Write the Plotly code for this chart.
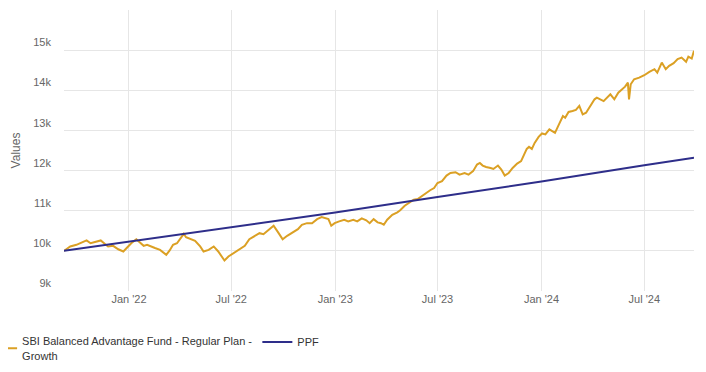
import plotly.graph_objects as go

fund_name = "SBI Balanced Advantage Fund - Regular Plan -<br>Growth"
ppf_name = "PPF"

fund_dates = [
    "2021-09-08", "2021-09-19", "2021-09-30", "2021-10-07", "2021-10-18", "2021-10-25",
    "2021-11-03", "2021-11-12", "2021-11-19", "2021-11-25", "2021-12-04", "2021-12-13",
    "2021-12-22", "2021-12-28", "2022-01-05", "2022-01-14", "2022-01-20", "2022-01-27",
    "2022-02-02", "2022-02-08", "2022-02-16", "2022-02-25", "2022-03-03", "2022-03-08",
    "2022-03-14", "2022-03-20", "2022-03-27", "2022-04-05", "2022-04-08", "2022-04-12",
    "2022-04-20", "2022-04-28", "2022-05-07", "2022-05-13", "2022-05-22", "2022-05-31",
    "2022-06-08", "2022-06-19", "2022-06-26", "2022-07-05", "2022-07-14", "2022-07-25",
    "2022-08-02", "2022-08-11", "2022-08-20", "2022-08-27", "2022-09-04", "2022-09-14",
    "2022-09-22", "2022-09-30", "2022-10-08", "2022-10-18", "2022-10-27", "2022-11-03",
    "2022-11-12", "2022-11-21", "2022-11-30", "2022-12-08", "2022-12-15", "2022-12-20",
    "2022-12-25", "2022-12-31", "2023-01-08", "2023-01-17", "2023-01-24", "2023-02-02",
    "2023-02-09", "2023-02-17", "2023-02-25", "2023-03-03", "2023-03-10", "2023-03-17",
    "2023-03-23", "2023-03-28", "2023-04-03", "2023-04-12", "2023-04-21", "2023-04-26",
    "2023-05-04", "2023-05-11", "2023-05-20", "2023-05-27", "2023-06-04", "2023-06-11",
    "2023-06-18", "2023-06-25", "2023-07-01", "2023-07-09", "2023-07-17", "2023-07-24",
    "2023-08-02", "2023-08-09", "2023-08-18", "2023-08-25", "2023-09-02", "2023-09-09",
    "2023-09-14", "2023-09-19", "2023-09-25", "2023-10-03", "2023-10-08", "2023-10-16",
    "2023-10-22", "2023-10-28", "2023-11-04", "2023-11-11", "2023-11-19", "2023-11-26",
    "2023-12-02", "2023-12-06", "2023-12-10", "2023-12-15", "2023-12-20", "2023-12-27",
    "2024-01-02", "2024-01-08", "2024-01-15", "2024-01-21", "2024-01-25", "2024-02-01",
    "2024-02-08", "2024-02-12", "2024-02-18", "2024-02-25", "2024-03-02", "2024-03-08",
    "2024-03-14", "2024-03-20", "2024-03-26", "2024-04-01", "2024-04-04", "2024-04-08",
    "2024-04-20", "2024-05-02", "2024-05-09", "2024-05-16", "2024-05-22", "2024-05-28",
    "2024-06-02", "2024-06-04", "2024-06-07", "2024-06-13", "2024-06-22", "2024-07-01",
    "2024-07-10", "2024-07-19", "2024-07-24", "2024-08-01", "2024-08-08", "2024-08-14",
    "2024-08-22", "2024-08-29", "2024-09-05", "2024-09-13", "2024-09-17", "2024-09-23",
    "2024-09-27",
]
fund_values = [
    10000, 10110, 10150, 10190, 10260, 10190,
    10225, 10260, 10175, 10110, 10125, 10040,
    9985, 10070, 10190, 10290, 10210, 10125,
    10150, 10110, 10070, 10025, 9960, 9900,
    10010, 10150, 10190, 10375, 10425, 10340,
    10290, 10250, 10110, 9985, 10025, 10110,
    9985, 9760, 9860, 9940, 10040, 10125,
    10290, 10375, 10440, 10415, 10510, 10625,
    10460, 10290, 10375, 10460, 10540, 10650,
    10690, 10690, 10790, 10840, 10815, 10790,
    10625, 10690, 10735, 10775, 10735, 10775,
    10735, 10810, 10760, 10690, 10790, 10710,
    10690, 10650, 10775, 10900, 10960, 11010,
    11125, 11190, 11275, 11290, 11375, 11440,
    11510, 11565, 11690, 11735, 11875, 11940,
    11960, 11900, 11940, 11900, 11985, 12150,
    12190, 12125, 12090, 12065, 12040, 12125,
    12025, 11875, 11940, 12065, 12175, 12235,
    12400, 12540, 12590, 12540, 12690, 12840,
    12925, 12900, 13025, 12985, 12940, 13150,
    13360, 13315, 13460, 13485, 13510, 13610,
    13400, 13440, 13565, 13690, 13775, 13815,
    13730, 13900, 13775, 13940, 14025, 14090,
    14190, 13775, 14150, 14275, 14315, 14375,
    14460, 14525, 14440, 14690, 14525, 14610,
    14675, 14775, 14815, 14710, 14840, 14790,
    14985,
]

ppf_dates = ["2021-09-08", "2022-01-01", "2022-07-01", "2023-01-01",
             "2023-07-01", "2024-01-01", "2024-07-01", "2024-09-27"]
ppf_values = [10000, 10230, 10580, 10955, 11340, 11730, 12135, 12320]

y_range = [9000, 16000]
x_range = ["2021-09-08", "2024-09-27"]

FONT = "Liberation Sans, Arial, sans-serif"

fig = go.Figure()
fig.add_trace(go.Scatter(x=fund_dates, y=fund_values, name=fund_name, mode="lines",
                         line=dict(color="#DBA024", width=2)))
fig.add_trace(go.Scatter(x=ppf_dates, y=ppf_values, name=ppf_name, mode="lines",
                         line=dict(color="#2E2E8A", width=2)))

fig.update_layout(
    width=690, height=356,
    margin=dict(l=56, r=4, t=2, b=73, autoexpand=False),
    paper_bgcolor="white", plot_bgcolor="white",
    font=dict(family=FONT, size=11, color="#666666"),
    showlegend=True,
    legend=dict(orientation="h", x=-0.13, xanchor="left", y=-0.13, yanchor="top",
                font=dict(size=11, color="#333333"), itemwidth=30,
                traceorder="normal"),
    xaxis=dict(range=x_range, type="date", tickformat="%b '%y", dtick="M6",
               tick0="2022-01-01", showgrid=True, gridcolor="#e6e6e6",
               showline=False, zeroline=False, ticks="", automargin=False,
               tickfont=dict(size=11, color="#666666")),
    yaxis=dict(range=y_range, dtick=1000, tickformat="~s", showgrid=True,
               gridcolor="#e6e6e6", zeroline=False, showline=False, ticks="",
               ticklabelposition="outside top", ticklabelstandoff=12, automargin=False,
               title=dict(text="Values", font=dict(size=12, color="#666666"), standoff=10),
               tickfont=dict(size=11, color="#666666")),
)

fig.write_html("out.html")
